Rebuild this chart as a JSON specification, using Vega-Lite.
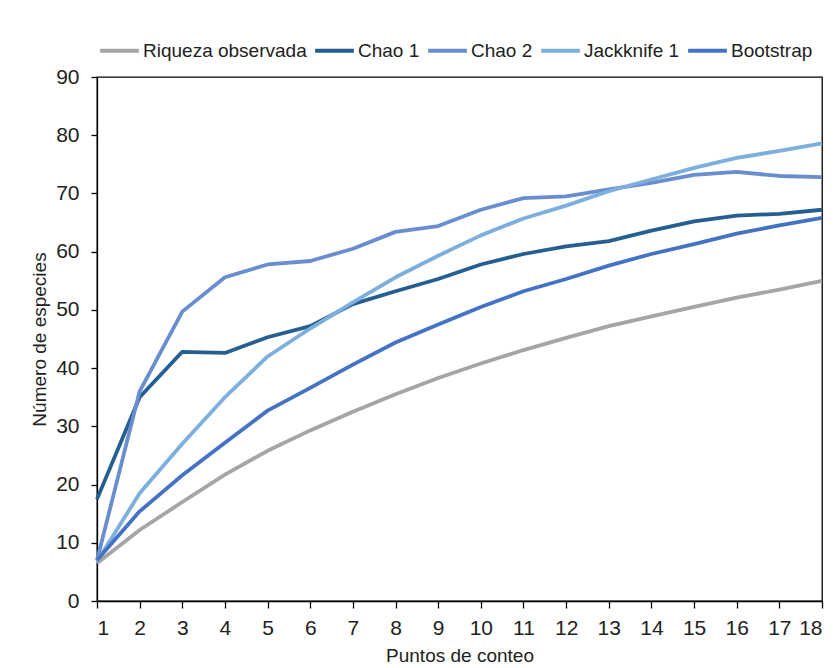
{
  "$schema": "https://vega.github.io/schema/vega-lite/v6.json",
  "width": 725,
  "height": 524,
  "autosize": {"type": "none"},
  "padding": {"left": 97, "top": 77, "right": 14, "bottom": 67},
  "background": "white",
  "config": {
    "font": "Liberation Sans",
    "view": {"stroke": "#000", "strokeWidth": 1.3}
  },
  "data": {
    "values": [
      {"p": 1, "s": "Riqueza observada", "v": 6.5}, {"p": 2, "s": "Riqueza observada", "v": 12.2}, {"p": 3, "s": "Riqueza observada", "v": 17}, {"p": 4, "s": "Riqueza observada", "v": 21.7}, {"p": 5, "s": "Riqueza observada", "v": 25.8}, {"p": 6, "s": "Riqueza observada", "v": 29.3}, {"p": 7, "s": "Riqueza observada", "v": 32.5}, {"p": 8, "s": "Riqueza observada", "v": 35.5}, {"p": 9, "s": "Riqueza observada", "v": 38.3}, {"p": 10, "s": "Riqueza observada", "v": 40.8}, {"p": 11, "s": "Riqueza observada", "v": 43.1}, {"p": 12, "s": "Riqueza observada", "v": 45.2}, {"p": 13, "s": "Riqueza observada", "v": 47.2}, {"p": 14, "s": "Riqueza observada", "v": 48.9}, {"p": 15, "s": "Riqueza observada", "v": 50.5}, {"p": 16, "s": "Riqueza observada", "v": 52.1}, {"p": 17, "s": "Riqueza observada", "v": 53.5}, {"p": 18, "s": "Riqueza observada", "v": 55},
      {"p": 1, "s": "Chao 1", "v": 17.5}, {"p": 2, "s": "Chao 1", "v": 35}, {"p": 3, "s": "Chao 1", "v": 42.8}, {"p": 4, "s": "Chao 1", "v": 42.6}, {"p": 5, "s": "Chao 1", "v": 45.3}, {"p": 6, "s": "Chao 1", "v": 47.2}, {"p": 7, "s": "Chao 1", "v": 51}, {"p": 8, "s": "Chao 1", "v": 53.2}, {"p": 9, "s": "Chao 1", "v": 55.3}, {"p": 10, "s": "Chao 1", "v": 57.8}, {"p": 11, "s": "Chao 1", "v": 59.6}, {"p": 12, "s": "Chao 1", "v": 60.9}, {"p": 13, "s": "Chao 1", "v": 61.8}, {"p": 14, "s": "Chao 1", "v": 63.6}, {"p": 15, "s": "Chao 1", "v": 65.2}, {"p": 16, "s": "Chao 1", "v": 66.2}, {"p": 17, "s": "Chao 1", "v": 66.5}, {"p": 18, "s": "Chao 1", "v": 67.2},
      {"p": 1, "s": "Chao 2", "v": 7}, {"p": 2, "s": "Chao 2", "v": 36}, {"p": 3, "s": "Chao 2", "v": 49.7}, {"p": 4, "s": "Chao 2", "v": 55.6}, {"p": 5, "s": "Chao 2", "v": 57.8}, {"p": 6, "s": "Chao 2", "v": 58.4}, {"p": 7, "s": "Chao 2", "v": 60.5}, {"p": 8, "s": "Chao 2", "v": 63.4}, {"p": 9, "s": "Chao 2", "v": 64.4}, {"p": 10, "s": "Chao 2", "v": 67.2}, {"p": 11, "s": "Chao 2", "v": 69.2}, {"p": 12, "s": "Chao 2", "v": 69.5}, {"p": 13, "s": "Chao 2", "v": 70.7}, {"p": 14, "s": "Chao 2", "v": 71.8}, {"p": 15, "s": "Chao 2", "v": 73.2}, {"p": 16, "s": "Chao 2", "v": 73.7}, {"p": 17, "s": "Chao 2", "v": 73}, {"p": 18, "s": "Chao 2", "v": 72.8},
      {"p": 1, "s": "Jackknife 1", "v": 6.8}, {"p": 2, "s": "Jackknife 1", "v": 18.5}, {"p": 3, "s": "Jackknife 1", "v": 27}, {"p": 4, "s": "Jackknife 1", "v": 35}, {"p": 5, "s": "Jackknife 1", "v": 42}, {"p": 6, "s": "Jackknife 1", "v": 46.8}, {"p": 7, "s": "Jackknife 1", "v": 51.3}, {"p": 8, "s": "Jackknife 1", "v": 55.6}, {"p": 9, "s": "Jackknife 1", "v": 59.3}, {"p": 10, "s": "Jackknife 1", "v": 62.8}, {"p": 11, "s": "Jackknife 1", "v": 65.7}, {"p": 12, "s": "Jackknife 1", "v": 67.9}, {"p": 13, "s": "Jackknife 1", "v": 70.4}, {"p": 14, "s": "Jackknife 1", "v": 72.4}, {"p": 15, "s": "Jackknife 1", "v": 74.4}, {"p": 16, "s": "Jackknife 1", "v": 76.1}, {"p": 17, "s": "Jackknife 1", "v": 77.3}, {"p": 18, "s": "Jackknife 1", "v": 78.6},
      {"p": 1, "s": "Bootstrap", "v": 7}, {"p": 2, "s": "Bootstrap", "v": 15.4}, {"p": 3, "s": "Bootstrap", "v": 21.6}, {"p": 4, "s": "Bootstrap", "v": 27.2}, {"p": 5, "s": "Bootstrap", "v": 32.7}, {"p": 6, "s": "Bootstrap", "v": 36.6}, {"p": 7, "s": "Bootstrap", "v": 40.6}, {"p": 8, "s": "Bootstrap", "v": 44.4}, {"p": 9, "s": "Bootstrap", "v": 47.5}, {"p": 10, "s": "Bootstrap", "v": 50.5}, {"p": 11, "s": "Bootstrap", "v": 53.2}, {"p": 12, "s": "Bootstrap", "v": 55.3}, {"p": 13, "s": "Bootstrap", "v": 57.6}, {"p": 14, "s": "Bootstrap", "v": 59.6}, {"p": 15, "s": "Bootstrap", "v": 61.3}, {"p": 16, "s": "Bootstrap", "v": 63.1}, {"p": 17, "s": "Bootstrap", "v": 64.5}, {"p": 18, "s": "Bootstrap", "v": 65.8}
    ]
  },
  "mark": {"type": "line", "strokeWidth": 3.8, "strokeJoin": "round"},
  "encoding": {
    "x": {
      "field": "p", "type": "quantitative",
      "scale": {"domain": [1, 18], "nice": false, "zero": false},
      "axis": {
        "title": "Puntos de conteo", "values": [1,2,3,4,5,6,7,8,9,10,11,12,13,14,15,16,17,18],
        "format": "d", "grid": false, "domainColor": "#000", "domainWidth": 1.3,
        "tickColor": "#000", "tickWidth": 1.3, "tickSize": 7,
        "labelFontSize": 21, "labelColor": "#222", "labelPadding": 9,
        "titleFontSize": 19, "titleFontWeight": "normal", "titleColor": "#222", "titlePadding": 8
      }
    },
    "y": {
      "field": "v", "type": "quantitative",
      "scale": {"domain": [0, 90], "nice": false},
      "axis": {
        "title": "Número de especies", "values": [0,10,20,30,40,50,60,70,80,90],
        "grid": false, "domainColor": "#000", "domainWidth": 1.3,
        "tickColor": "#000", "tickWidth": 1.3, "tickSize": 6,
        "labelFontSize": 21, "labelColor": "#222", "labelPadding": 12,
        "titleFontSize": 19, "titleFontWeight": "normal", "titleColor": "#222", "titlePadding": 6
      }
    },
    "color": {
      "field": "s", "type": "nominal",
      "scale": {
        "domain": ["Riqueza observada", "Chao 1", "Chao 2", "Jackknife 1", "Bootstrap"],
        "range": ["#A5A5A5", "#255E91", "#698ED0", "#7CAFDD", "#4472C4"]
      },
      "legend": {
        "title": null, "orient": "none", "legendX": 1, "legendY": -48,
        "direction": "horizontal", "symbolType": "stroke", "symbolSize": 1500,
        "symbolStrokeWidth": 4, "labelFontSize": 19, "labelColor": "#222",
        "labelOffset": 2, "columnPadding": 0, "labelLimit": 300
      }
    }
  }
}
